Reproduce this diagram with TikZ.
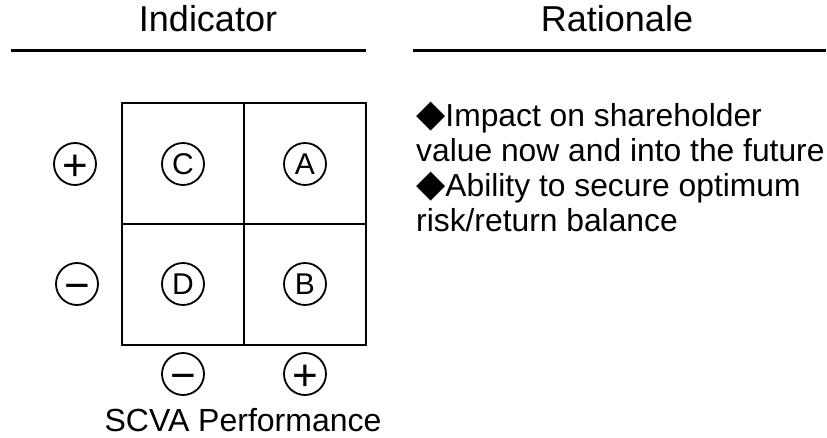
\documentclass[tikz,border=0pt]{standalone}
\usepackage{fontspec}
\setmainfont{Liberation Sans}
\newfontfamily\symfont{DejaVu Sans}
\newcommand{\bulletmark}{{\fontsize{38}{35.3}\symfont ◆}}
% sign glyph centred on the baseline
\newcommand{\signglyph}[1]{\smash{\raisebox{-16.2pt}{#1}}}

\begin{document}
\begin{tikzpicture}[x=1pt,y=-1pt,
  head/.style={font=\fontsize{36}{36}\selectfont,anchor=base,inner sep=0pt},
  letter/.style={circle,draw,line width=1.8pt,minimum size=42pt,inner sep=0pt,font=\fontsize{30}{30}\selectfont},
  sign/.style={circle,draw,line width=1.8pt,minimum size=42pt,inner sep=0pt,font=\fontsize{44}{44}\selectfont}]
\useasboundingbox (0,0) rectangle (827,438);
% column headings
\node[head] (ind) at (208,32) {Indicator};
\node[head] (rat) at (617,32) {Rationale};
\draw[line width=3pt] (11,51) -- (366,51);
\draw[line width=3pt] (413,51) -- (826,51);
% 2x2 matrix
\draw[line width=2pt] (122,103) rectangle (366,345);
\draw[line width=2pt] (244,103) -- (244,345);
\draw[line width=2pt] (122,224) -- (366,224);
\node[letter] (C) at (183,164) {C};
\node[letter] (A) at (305,164) {A};
\node[letter] (D) at (183,284) {D};
\node[letter] (B) at (305,284) {B};
% axis signs
\node[sign] (yplus) at (75,164) {\signglyph{+}};
\node[sign] (yminus) at (77,284) {\signglyph{−}};
\node[sign] (xminus) at (183,374) {\signglyph{−}};
\node[sign] (xplus) at (305,374) {\signglyph{+}};
\node[font=\fontsize{32}{32}\selectfont,anchor=base,inner sep=0pt] (perf) at (243,431) {SCVA Performance};
% rationale text
\node[font=\fontsize{31.8}{35.3}\selectfont,align=left,anchor=base west,inner sep=0pt] (why) at (416,232)
  {\bulletmark Impact on shareholder\\value now and into the future\\\bulletmark Ability to secure optimum\\risk/return balance};
\end{tikzpicture}
\end{document}
